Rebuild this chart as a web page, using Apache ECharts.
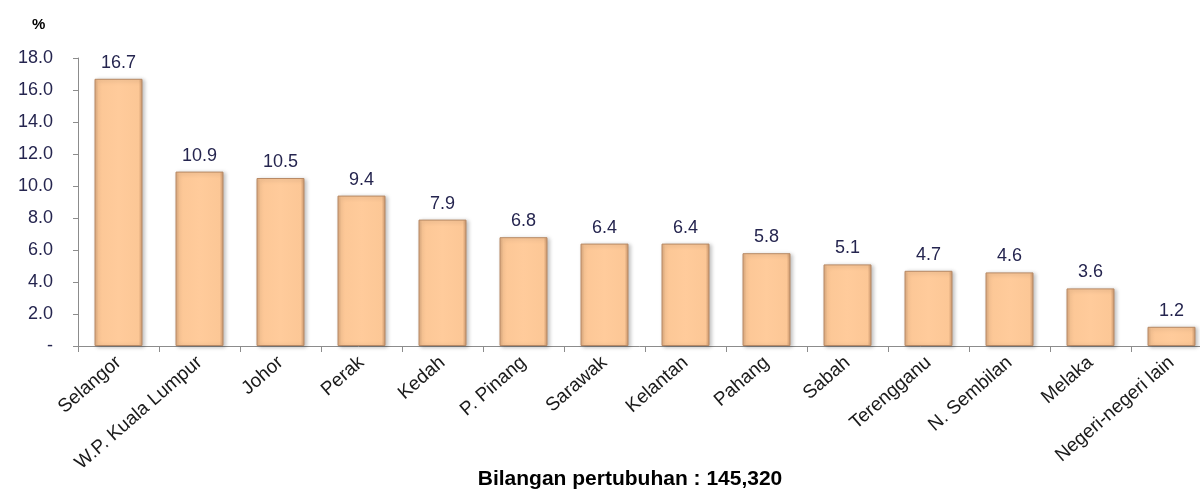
<!DOCTYPE html>
<html>
<head>
<meta charset="utf-8">
<script src="https://cdn.jsdelivr.net/npm/echarts@6/dist/echarts.min.js"></script>
<style>
  html, body { margin: 0; padding: 0; background: #fff; }
  #chart { width: 1200px; height: 491px; }
</style>
</head>
<body>
<div id="chart"></div>
<script>
var states = ["Selangor", "W.P. Kuala Lumpur", "Johor", "Perak", "Kedah", "P. Pinang", "Sarawak",
  "Kelantan", "Pahang", "Sabah", "Terengganu", "N. Sembilan", "Melaka", "Negeri-negeri lain"];
var percentages = [16.7, 10.9, 10.5, 9.4, 7.9, 6.8, 6.4, 6.4, 5.8, 5.1, 4.7, 4.6, 3.6, 1.2];
var yTicks = [0, 2, 4, 6, 8, 10, 12, 14, 16, 18];

var chart = echarts.init(document.getElementById("chart"));

var barFill = new echarts.graphic.LinearGradient(0, 0, 1, 0, [
  { offset: 0, color: "#d9a77c" },
  { offset: 0.08, color: "#fcc796" },
  { offset: 0.5, color: "#ffcb9b" },
  { offset: 0.92, color: "#fcc796" },
  { offset: 1, color: "#c8946a" }
]);

chart.setOption({
  animation: false,
  title: [
    {
      text: "Bilangan pertubuhan : 145,320",
      left: 625, top: 464, textAlign: "center",
      textStyle: { fontFamily: "Liberation Sans", fontSize: 21, fontWeight: "bold", color: "#000" }
    },
    {
      text: "%",
      left: 27, top: 12,
      textStyle: { fontFamily: "Liberation Sans", fontSize: 15, fontWeight: "bold", color: "#000" }
    }
  ],
  grid: { left: 78, right: -12, top: 58, bottom: 145, outerBoundsMode: "none" },
  xAxis: {
    type: "category",
    data: states,
    axisLine: { lineStyle: { color: "#8c8c8c" } },
    axisTick: { show: true, alignWithLabel: false, length: 6, lineStyle: { color: "#8c8c8c" } },
    axisLabel: {
      interval: 0, rotate: 41, margin: 14,
      fontFamily: "Liberation Sans", fontSize: 19, color: "#1a1a1a"
    }
  },
  yAxis: {
    type: "value",
    min: yTicks[0], max: yTicks[yTicks.length - 1], interval: 2,
    splitLine: { show: false },
    axisLine: { show: true, lineStyle: { color: "#8c8c8c" } },
    axisTick: { show: true, length: 5, lineStyle: { color: "#8c8c8c" } },
    axisLabel: {
      margin: 25,
      fontFamily: "Liberation Sans", fontSize: 18, color: "#25254f",
      formatter: function (v) { return v === 0 ? "-" : v.toFixed(1); }
    }
  },
  series: [{
    type: "bar",
    data: percentages,
    barWidth: 48,
    itemStyle: {
      color: barFill,
      borderColor: "#b88a66",
      borderWidth: 1,
      shadowColor: "rgba(0,0,0,0.25)",
      shadowBlur: 4,
      shadowOffsetX: 2,
      shadowOffsetY: 1
    },
    label: {
      show: true, position: "top", distance: 7,
      fontFamily: "Liberation Sans", fontSize: 18, color: "#25254f",
      formatter: function (p) { return p.value.toFixed(1); }
    }
  }]
});
</script>
</body>
</html>
